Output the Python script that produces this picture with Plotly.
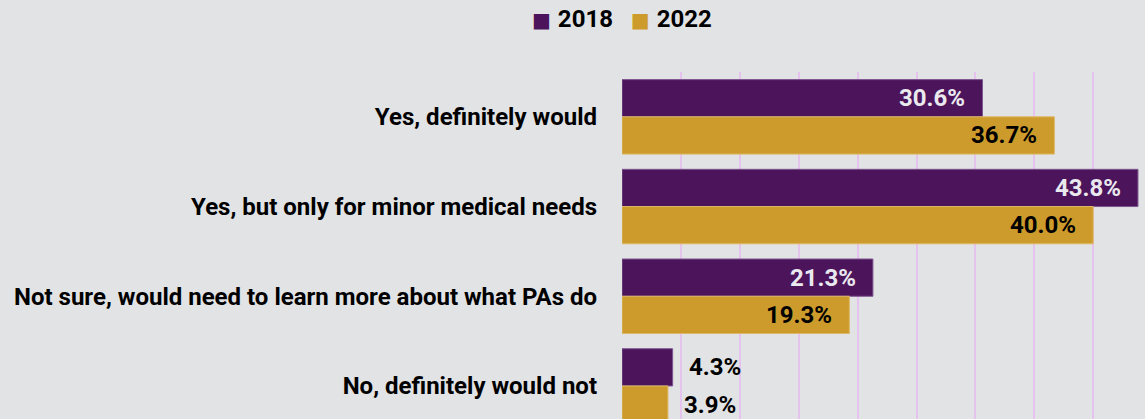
import plotly.graph_objects as go

categories = [
    "Yes, definitely would",
    "Yes, but only for minor medical needs",
    "Not sure, would need to learn more about what PAs do",
    "No, definitely would not",
]
values_2018 = [30.6, 43.8, 21.3, 4.3]
values_2022 = [36.7, 40.0, 19.3, 3.9]
series_names = ["2018", "2022"]

PURPLE = "#4c145b"
GOLD = "#cd9b2b"
BG = "#e2e3e5"
FONT = "Roboto"
FS = 24

W, H = 1145, 419
L, T = 622, 72
PX_PER_PCT = 11.78
xmax = (W - L) / PX_PER_PCT
cat_px = 89.7
ybottom = -0.5 + (H - T) / cat_px

idx = list(range(len(categories)))
colors = [PURPLE, GOLD]

fig = go.Figure()
fig.add_trace(go.Bar(
    name=series_names[0], y=idx, x=values_2018, orientation="h",
    marker=dict(color=PURPLE, line=dict(color="#7d5590", width=1)),
))
fig.add_trace(go.Bar(
    name=series_names[1], y=idx, x=values_2022, orientation="h",
    marker=dict(color=GOLD, line=dict(color="#ddb866", width=1)),
))

# value labels
inside_threshold = 10
annotations = []
off = 0.5 * (1 - 0.17) / 2
for vals, dy, incol in [(values_2018, -off, "#e9e9ef"), (values_2022, off, "#000000")]:
    for i, v in enumerate(vals):
        inside = v > inside_threshold
        annotations.append(dict(
            x=v, y=i + dy, xref="x", yref="y",
            text=f"{v:.1f}%", showarrow=False,
            xanchor="right" if inside else "left",
            xshift=-15 if inside else 14,
            font=dict(family=FONT, size=FS, weight=700, color=incol if inside else "#000000"),
        ))

# legend (drawn as text with coloured squares)
legend_text = "   ".join(
    f'<span style="color:{c};font-family:DejaVu Sans;font-size:20px">■ </span>{n}'
    for c, n in zip(colors, series_names)
)
plot_h = H - T
annotations.append(dict(
    x=0, xref="paper", xanchor="center",
    y=1 + (T - 19) / plot_h, yref="paper", yanchor="middle",
    text=legend_text, showarrow=False,
    font=dict(family=FONT, size=FS, weight=700, color="#000000"),
))

fig.update_layout(
    width=W, height=H,
    margin=dict(l=L, r=0, t=T, b=0),
    paper_bgcolor=BG, plot_bgcolor=BG,
    barmode="group", bargap=0.17, bargroupgap=0,
    font=dict(family=FONT, size=FS, color="#000000"),
    showlegend=False,
    annotations=annotations,
)
fig.update_xaxes(
    range=[0, xmax], dtick=5, showgrid=True, gridcolor="#e6c2ee", gridwidth=1.5,
    zeroline=False, showticklabels=False, showline=False, fixedrange=True,
)
fig.update_yaxes(
    range=[ybottom, -0.5], tickmode="array", tickvals=idx, ticktext=categories,
    showgrid=False, zeroline=False, showline=False, ticks="",
    ticklabelstandoff=24,
    tickfont=dict(family=FONT, size=FS, weight=700, color="#000000"),
)

fig.write_html("out.html", config={"displayModeBar": False})
